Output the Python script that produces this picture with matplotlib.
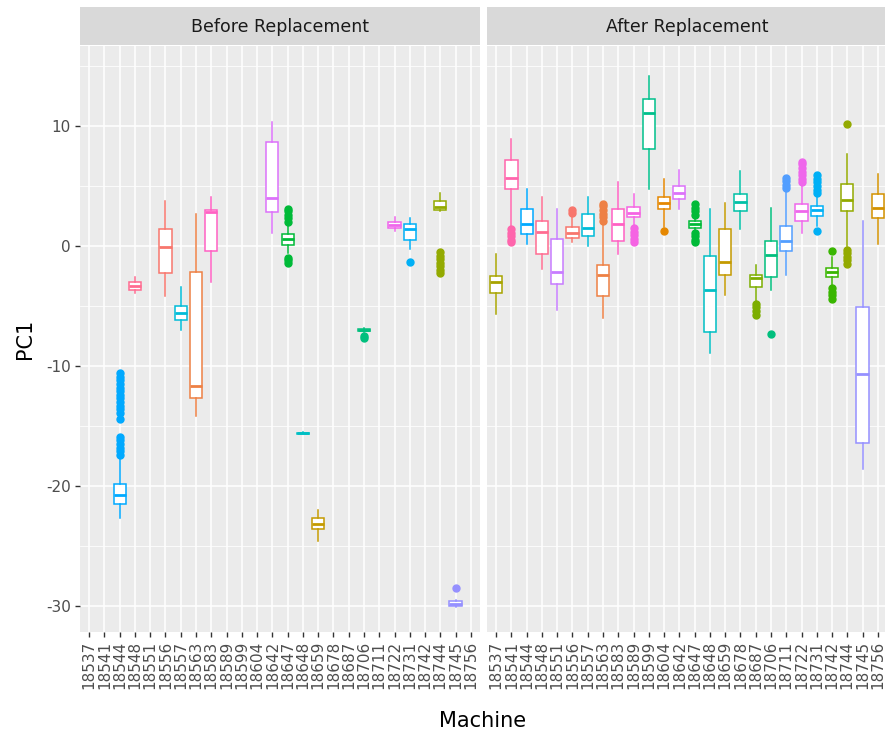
import numpy as np
import matplotlib
matplotlib.use('Agg')
import matplotlib.pyplot as plt
from matplotlib.ticker import MultipleLocator

machines = ['18537', '18541', '18544', '18548', '18551', '18556', '18557', '18563',
            '18583', '18589', '18599', '18604', '18642', '18647', '18648', '18659',
            '18678', '18687', '18706', '18711', '18722', '18731', '18742', '18744',
            '18745', '18756']

machine_colors = ['#A8A400', '#FF65AC', '#00A9FF', '#FF6C91', '#C77CFF', '#F8766D',
                  '#00BCD8', '#EE8044', '#FF61C3', '#F564E3', '#00C08B', '#E58700',
                  '#DC71FA', '#00BA38', '#00BFC4', '#C49A00', '#00C1A7', '#7CAE00',
                  '#00BF7D', '#529EFF', '#EF67EB', '#00B0F6', '#39B600', '#93AA00',
                  '#9590FF', '#D39200']

# before replacement: machine, q1, median, q3, whisker low, whisker high, outliers
before_machines = ['18544', '18548', '18556', '18557', '18563', '18583', '18642', '18647',
                   '18648', '18659', '18706', '18722', '18731', '18744', '18745']
before_q1 = [-21.5, -3.7, -2.25, -6.2, -12.7, -0.4, 2.85, 0.1, -15.65, -23.6, -7.1, 1.5, 0.5, 3.0, -30.0]
before_med = [-20.75, -3.35, -0.1, -5.55, -11.7, 2.8, 4.0, 0.55, -15.6, -23.2, -7.0, 1.75, 1.4, 3.25, -29.8]
before_q3 = [-19.8, -3.0, 1.4, -5.0, -2.2, 3.0, 8.7, 1.0, -15.55, -22.7, -6.9, 2.0, 1.8, 3.75, -29.6]
before_lo = [-22.7, -3.9, -4.2, -7.0, -14.2, -3.0, 1.1, -0.6, -15.7, -24.6, -7.2, 1.25, -0.25, 2.9, -30.1]
before_hi = [-17.5, -2.6, 3.75, -3.4, 2.7, 4.1, 10.3, 1.9, -15.5, -22.0, -6.8, 2.4, 2.3, 4.4, -29.5]
before_out = [
    [-17.4, -17.1, -16.8, -16.5, -16.2, -15.9, -14.4, -13.9, -13.6, -13.3, -13.0, -12.7,
     -12.4, -12.1, -11.8, -11.5, -11.2, -10.9, -10.6],
    [], [], [], [], [], [],
    [2.0, 2.3, 2.6, 2.9, 3.1, -1.0, -1.2, -1.4],
    [], [],
    [-7.5, -7.7],
    [],
    [-1.3],
    [-0.5, -0.8, -1.1, -1.4, -1.7, -2.0, -2.25],
    [-28.5],
]

# after replacement: all machines
after_q1 = [-3.9, 4.75, 1.0, -0.7, -3.2, 0.7, 0.8, -4.2, 0.4, 2.4, 8.1, 3.1, 3.9,
            1.5, -7.2, -2.4, 2.9, -3.45, -2.6, -0.4, 2.1, 2.5, -2.55, 2.9, -16.4, 2.35]
after_med = [-3.0, 5.7, 1.8, 1.2, -2.2, 1.1, 1.5, -2.4, 1.8, 2.75, 11.1, 3.6, 4.45,
             1.8, -3.7, -1.3, 3.7, -2.65, -0.75, 0.4, 2.9, 3.0, -2.15, 3.8, -10.7, 3.15]
after_q3 = [-2.5, 7.2, 3.1, 2.1, 0.6, 1.6, 2.7, -1.6, 3.1, 3.25, 12.25, 4.1, 5.0,
            2.1, -0.85, 1.4, 4.3, -2.4, 0.4, 1.65, 3.5, 3.35, -1.8, 5.15, -5.1, 4.3]
after_lo = [-5.7, 1.6, 0.2, -1.9, -5.3, 0.3, 0.0, -6.0, -0.7, 1.6, 4.75, 1.6, 3.1,
            1.2, -8.9, -4.05, 1.4, -4.6, -3.7, -2.4, 1.1, 1.7, -3.3, 0.0, -18.6, 0.15]
after_hi = [-0.7, 8.9, 4.75, 4.1, 3.1, 2.4, 4.1, 1.9, 5.3, 4.3, 14.2, 5.6, 6.3,
            2.45, 3.1, 3.6, 6.25, -1.55, 3.2, 4.6, 5.1, 4.2, -0.9, 7.65, 2.1, 6.0]
after_out = [
    [],
    [1.4, 1.1, 0.8, 0.5, 0.3],
    [], [], [],
    [2.75, 3.0],
    [],
    [2.1, 2.4, 2.7, 3.0, 3.3, 3.5],
    [],
    [1.5, 1.2, 0.9, 0.6, 0.3],
    [],
    [1.25],
    [],
    [2.6, 2.9, 3.2, 3.5, 1.05, 0.8, 0.5, 0.3],
    [], [], [],
    [-4.8, -5.1, -5.4, -5.75],
    [-7.35],
    [4.8, 5.1, 5.4, 5.7],
    [5.3, 5.6, 5.9, 6.2, 6.5, 6.8, 7.0],
    [4.4, 4.7, 5.0, 5.3, 5.6, 5.9, 1.25],
    [-0.4, -3.5, -3.8, -4.1, -4.4],
    [10.2, -0.3, -0.6, -0.9, -1.2, -1.5],
    [], [],
]

W, H = 885, 735
fig = plt.figure(figsize=(W / 100, H / 100), dpi=100)

def draw_panel(ax, names, q1, med, q3, lo, hi, out):
    for i, m in enumerate(names):
        k = machines.index(m)
        c = machine_colors[k]
        st = dict(med=med[i], q1=q1[i], q3=q3[i], whislo=lo[i], whishi=hi[i],
                  fliers=out[i])
        ax.bxp([st], positions=[k], widths=0.8, showcaps=False, patch_artist=True,
               boxprops=dict(facecolor='white', edgecolor=c, linewidth=1.1),
               medianprops=dict(color=c, linewidth=2.0),
               whiskerprops=dict(color=c, linewidth=1.1),
               flierprops=dict(marker='o', markerfacecolor=c, markeredgecolor=c,
                               markersize=5, linestyle='none'),
               manage_ticks=False)
    ax.set_facecolor('#EBEBEB')
    ax.set_xlim(-0.6, len(machines) - 0.4)
    ax.set_ylim(-32.17, 16.67)
    ax.set_xticks(range(len(machines)))
    ax.set_xticklabels(machines, rotation=90, fontsize=11, color='#4D4D4D')
    ax.yaxis.set_major_locator(MultipleLocator(10))
    ax.yaxis.set_minor_locator(MultipleLocator(5))
    ax.grid(which='major', color='white', linewidth=1.1)
    ax.grid(which='minor', axis='y', color='white', linewidth=0.55)
    ax.set_axisbelow(True)
    for s in ax.spines.values():
        s.set_visible(False)
    ax.tick_params(which='major', length=3.5, width=1.0, color='#333333', pad=3)
    ax.tick_params(which='minor', length=0)

pl, pw = 80 / W, 400 / W
pb, ph = (H - 632) / H, 586 / H
ax1 = fig.add_axes([pl, pb, pw, ph])
ax2 = fig.add_axes([487 / W, pb, pw, ph])

draw_panel(ax1, before_machines, before_q1, before_med, before_q3, before_lo, before_hi, before_out)
draw_panel(ax2, machines, after_q1, after_med, after_q3, after_lo, after_hi, after_out)

ax1.set_yticks([10, 0, -10, -20, -30])
ax1.set_yticklabels(['10', '0', '-10', '-20', '-30'], fontsize=11, color='#4D4D4D')
ax2.tick_params(axis='y', which='both', left=False, labelleft=False)

for left, title in [(80, 'Before Replacement'), (487, 'After Replacement')]:
    sa = fig.add_axes([left / W, (H - 45) / H, pw, 38 / H])
    sa.set_facecolor('#D9D9D9')
    sa.set_xticks([])
    sa.set_yticks([])
    for s in sa.spines.values():
        s.set_visible(False)
    sa.text(0.5, 0.47, title, ha='center', va='center', fontsize=12.5, color='#1A1A1A',
            transform=sa.transAxes)

fig.text(483 / W, (H - 721) / H, 'Machine', ha='center', va='center', fontsize=15)
fig.text(25 / W, (H - 339) / H, 'PC1', ha='center', va='center', rotation=90, fontsize=15)

fig.savefig('out.png', dpi=100, facecolor='white')
